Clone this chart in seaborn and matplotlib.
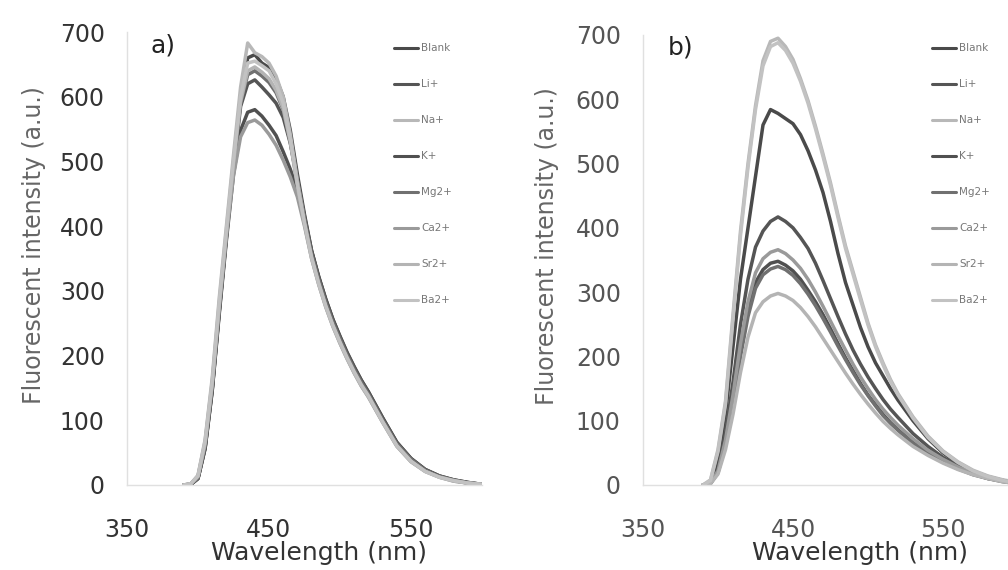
import matplotlib
matplotlib.use("Agg")
import matplotlib.pyplot as plt
import seaborn as sns
import pandas as pd

sns.set_theme(style="white")
plt.rcParams["font.family"] = ["DejaVu Sans"]

# ---------------- data ----------------
ions = ["Blank", "Li+", "Na+", "K+", "Mg2+", "Ca2+", "Sr2+", "Ba2+"]
wavelength = [390, 395, 400, 405, 410, 415, 420, 425, 430, 435, 440, 445, 450, 455,
              460, 465, 470, 475, 480, 485, 490, 495, 500, 505, 510, 515, 520, 530,
              540, 550, 560, 570, 580, 590, 600]

# panel a)
a_blank = [0, 1, 10, 58, 148, 270, 385, 495, 598, 660, 665, 652, 645, 628, 600, 548, 480, 418,
           362, 322, 287, 256, 230, 205, 183, 162, 144, 104, 66, 41, 24, 14, 8, 4, 1]
a_li = [0, 1, 10, 57, 146, 268, 382, 490, 585, 620, 626, 615, 603, 590, 568, 528, 472, 415,
        362, 322, 287, 256, 229, 204, 182, 162, 144, 104, 66, 41, 24, 14, 8, 4, 1]
a_na = [0, 2, 15, 70, 165, 290, 400, 510, 615, 683, 668, 662, 652, 632, 600, 542, 470, 410,
        355, 315, 280, 250, 224, 200, 178, 158, 140, 100, 62, 38, 22, 13, 7, 3, 1]
a_k = [0, 1, 10, 56, 145, 265, 378, 480, 548, 576, 580, 570, 556, 540, 515, 488, 455, 410,
       360, 320, 285, 254, 227, 202, 180, 160, 142, 102, 65, 40, 23, 13, 7, 3, 1]
a_mg = [0, 1, 11, 60, 150, 272, 386, 494, 590, 634, 640, 632, 622, 606, 580, 530, 466, 410,
        358, 318, 283, 252, 226, 201, 179, 159, 141, 101, 64, 40, 23, 13, 7, 3, 1]
a_ca = [0, 2, 13, 64, 155, 276, 385, 478, 538, 560, 564, 556, 542, 525, 502, 476, 445, 400,
        350, 310, 275, 245, 219, 195, 173, 153, 136, 97, 60, 36, 21, 12, 6, 3, 1]
a_sr = [0, 2, 14, 66, 158, 280, 390, 498, 592, 640, 646, 638, 628, 610, 582, 530, 462, 403,
        350, 310, 275, 245, 219, 195, 173, 153, 136, 97, 60, 36, 21, 12, 6, 3, 1]
a_ba = [0, 2, 14, 68, 160, 284, 395, 502, 600, 652, 655, 648, 640, 620, 590, 535, 466, 406,
        352, 312, 277, 247, 221, 197, 175, 155, 138, 98, 61, 37, 21, 12, 7, 3, 1]

# panel b)
b_blank = [0, 3, 35, 110, 215, 320, 400, 480, 560, 584, 578, 570, 562, 545, 520, 490, 455, 410,
           360, 315, 280, 245, 215, 190, 170, 150, 132, 100, 72, 50, 33, 21, 13, 7, 3]
b_li = [0, 3, 25, 80, 160, 250, 320, 370, 395, 410, 417, 410, 400, 385, 368, 345, 318, 290,
        262, 235, 210, 188, 168, 150, 133, 118, 105, 80, 60, 43, 30, 20, 12, 7, 3]
b_na = [0, 8, 55, 130, 265, 395, 500, 590, 660, 690, 695, 682, 662, 632, 598, 558, 515, 470,
        420, 372, 332, 292, 252, 218, 190, 164, 142, 106, 76, 53, 36, 23, 14, 8, 4]
b_k = [0, 3, 20, 65, 130, 205, 270, 315, 335, 345, 348, 342, 333, 320, 303, 285, 265, 243,
       220, 198, 178, 158, 140, 125, 110, 97, 86, 66, 50, 37, 26, 17, 10, 6, 3]
b_mg = [0, 2, 19, 62, 126, 200, 262, 306, 327, 336, 340, 335, 326, 313, 297, 279, 259, 238,
        216, 195, 175, 156, 139, 123, 108, 96, 85, 65, 49, 36, 25, 16, 10, 5, 2]
b_ca = [0, 3, 22, 70, 140, 220, 285, 330, 352, 362, 366, 360, 350, 337, 320, 300, 278, 255,
        232, 210, 188, 168, 150, 133, 118, 105, 93, 72, 54, 40, 28, 18, 11, 6, 3]
b_sr = [0, 2, 17, 55, 110, 175, 230, 268, 285, 294, 298, 294, 287, 276, 262, 246, 228, 210,
        192, 174, 157, 141, 126, 112, 99, 88, 78, 60, 46, 34, 24, 16, 10, 5, 2]
b_ba = [0, 7, 52, 126, 258, 388, 494, 584, 652, 682, 688, 676, 656, 628, 594, 554, 511, 466,
        416, 368, 328, 288, 249, 215, 187, 161, 140, 104, 74, 52, 35, 22, 13, 7, 3]

x_ticks = [350, 450, 550]
y_ticks = [0, 100, 200, 300, 400, 500, 600, 700]
panel_labels = ["a)", "b)"]
x_label = "Wavelength (nm)"
y_label = "Fluorescent intensity (a.u.)"

series_a = [a_blank, a_li, a_na, a_k, a_mg, a_ca, a_sr, a_ba]
series_b = [b_blank, b_li, b_na, b_k, b_mg, b_ca, b_sr, b_ba]

palette = {"Blank": "#4a4a4a", "Li+": "#555555", "Na+": "#b8b8b8", "K+": "#505050",
           "Mg2+": "#707070", "Ca2+": "#9a9a9a", "Sr2+": "#b4b4b4", "Ba2+": "#c2c2c2"}


def long_df(series):
    rows = []
    for ion, vals in zip(ions, series):
        for w, v in zip(wavelength, vals):
            rows.append({"Wavelength": w, "Intensity": v, "Ion": ion})
    return pd.DataFrame(rows)


fig = plt.figure(figsize=(10.08, 5.70), dpi=100)
W, H = 1008, 570
ax_a = fig.add_axes([127 / W, 1 - 485 / H, 355 / W, 453 / H])
ax_b = fig.add_axes([643 / W, 1 - 485 / H, 375 / W, 450 / H])

configs = [
    (ax_a, series_a, panel_labels[0], (150, 45), (390, 39), "#333333", 0.54, -0.228),
    (ax_b, series_b, panel_labels[1], (668, 48), (928, 39), "#555555", 0.58, -0.224),
]

for ax, series, plab, plab_xy, leg_xy, tcol, xl_x, yl_x in configs:
    df = long_df(series)
    sns.lineplot(data=df, x="Wavelength", y="Intensity", hue="Ion", hue_order=ions,
                 palette=palette, linewidth=2.5, ax=ax, legend=True)
    ax.set_xlim(350, 600)
    ax.set_ylim(0, 700)
    ax.set_xticks(x_ticks)
    ax.set_yticks(y_ticks)
    ax.tick_params(axis="both", length=0, labelsize=17, colors=tcol)
    ax.tick_params(axis="x", pad=24)
    ax.tick_params(axis="y", pad=16)
    for sp in ["top", "right"]:
        ax.spines[sp].set_visible(False)
    for sp in ["left", "bottom"]:
        ax.spines[sp].set_color("#e0e0e0")
        ax.spines[sp].set_linewidth(1.0)
    ax.set_xlabel(x_label, fontsize=18, color="#333333")
    ax.set_ylabel(y_label, fontsize=17, color="#666666")
    ax.xaxis.set_label_coords(xl_x, -0.124)
    ax.yaxis.set_label_coords(yl_x, 0.53)
    fig.text(plab_xy[0] / W, 1 - plab_xy[1] / H, plab, fontsize=18, color="#222222",
             ha="left", va="center")
    leg = ax.legend(loc="upper left", bbox_to_anchor=(leg_xy[0] / W, 1 - leg_xy[1] / H),
                    bbox_transform=fig.transFigure, frameon=False, fontsize=7.5,
                    labelspacing=2.5, handlelength=2.3, handletextpad=0.3,
                    borderaxespad=0)
    for t in leg.get_texts():
        t.set_color("#777777")
    for ln in leg.get_lines():
        ln.set_linewidth(2.2)

fig.savefig("out.png", dpi=100)
